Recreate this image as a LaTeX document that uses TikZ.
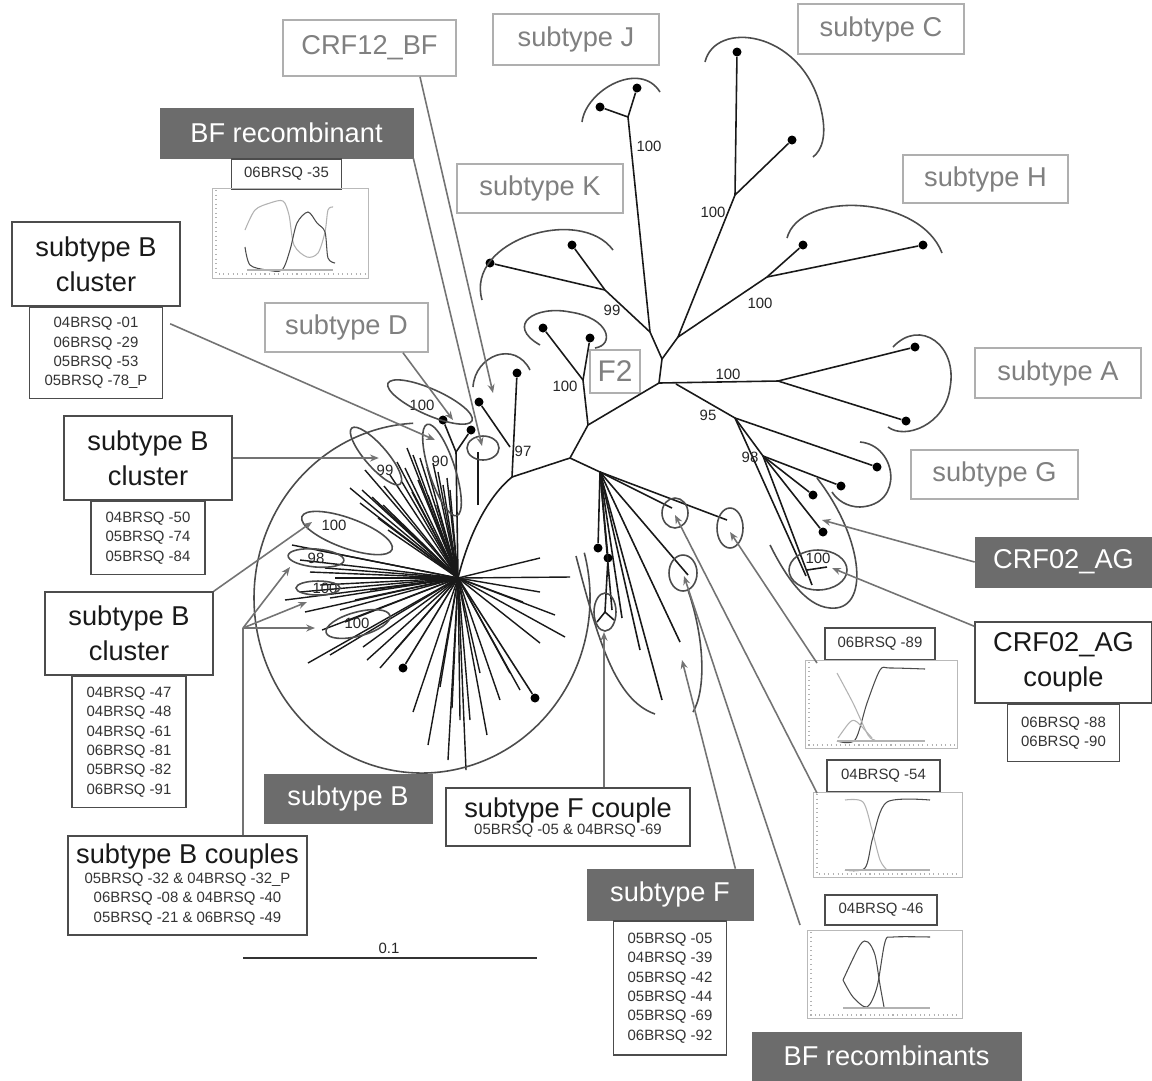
\documentclass[tikz,border=0pt]{standalone}
\usepackage{fontspec}
\setmainfont{Liberation Sans}
\usetikzlibrary{arrows.meta,positioning}
\definecolor{labelgray}{RGB}{128,128,128}
\definecolor{rimgray}{RGB}{175,175,175}
\definecolor{boxgray}{RGB}{108,108,108}
\definecolor{linegray}{RGB}{115,115,115}
\definecolor{treeblack}{RGB}{25,25,25}

\tikzset{
  px/.style 2 args={minimum width=#1*0.02cm, minimum height=#2*0.02cm},
  biglbl/.style={font=\fontsize{15.5}{20}\selectfont, inner sep=0pt, align=center},
  graybox/.style={biglbl, draw=rimgray, line width=0.9pt, text=labelgray, fill=white},
  darkbox/.style={biglbl, fill=boxgray, draw=boxgray, text=white},
  blackbox/.style={biglbl, draw=black!70, line width=0.9pt, text=black!90, fill=white},
  idbox/.style={draw=black!70, line width=0.8pt, inner sep=0pt, align=center, fill=white,
    font=\fontsize{8.5}{11}\selectfont, text=black!80},
  idtext/.style={inner sep=0pt, align=center, font=\fontsize{8.5}{11}\selectfont, text=black!80},
  boot/.style={font=\fontsize{8.5}{10}\selectfont, inner sep=0pt, text=black!85},
  branch/.style={draw=treeblack, line width=0.9pt},
  tip/.style={circle, fill=black, inner sep=0pt, minimum size=0.18cm},
  hull/.style={draw=black!70, line width=0.9pt},
  pointer/.style={draw=linegray, line width=0.9pt, -{Stealth[length=5pt,width=4pt]}},
  chartframe/.style={draw=gray!55, line width=0.5pt},
  chartaxis/.style={draw=gray!60, line width=0.6pt, dotted},
  chartdark/.style={draw=black!70, line width=0.6pt},
  chartlight/.style={draw=gray!60, line width=0.6pt}
}

\begin{document}
\begin{tikzpicture}[x=0.02cm, y=-0.02cm]
\useasboundingbox[fill=white] (0,0) rectangle (1152,1080);

% subtype labels
\node[graybox, px={173}{56}] (crf12) at (369.5,48) {CRF12\_BF};
\node[graybox, px={166}{51}] (subJ) at (576,39.5) {subtype J};
\node[graybox, px={166}{50}] (subC) at (881,29) {subtype C};
\node[graybox, px={166}{49}] (subK) at (540,188.5) {subtype K};
\node[graybox, px={165}{48}] (subH) at (985.5,179) {subtype H};
\node[graybox, px={163}{49}] (subD) at (346.5,327.5) {subtype D};
\node[graybox, px={50}{43}, font=\fontsize{17}{20}\selectfont] (fII) at (615,371.5) {F2};
\node[graybox, px={166}{50}] (subA) at (1058,373) {subtype A};
\node[graybox, px={167}{49}] (subG) at (994.5,474.5) {subtype G};

\node[darkbox, px={253}{50}] (bfrec) at (286.5,133) {BF recombinant};
\node[darkbox, px={177}{50}] (crfAG) at (1063.5,562) {CRF02\_AG};
\node[darkbox, px={168}{49}] (subB) at (348,798.5) {subtype B};
\node[darkbox, px={166}{51}] (subF) at (670,894.5) {subtype F};
\node[darkbox, px={269}{48}] (bfrecs) at (886.5,1056) {BF recombinants};

\node[blackbox, px={168}{84}] (clA) at (96,264) {subtype B\\cluster};
\node[blackbox, px={168}{84}] (clB) at (148,458) {subtype B\\cluster};
\node[blackbox, px={168}{83}] (clC) at (129,633.5) {subtype B\\cluster};
\node[blackbox, px={177}{81}] (crfcpl) at (1063.5,662.5) {CRF02\_AG\\couple};

% sample lists
\node[idbox, px={133}{91}, below=0pt of clA] (idA) {04BRSQ -01\\06BRSQ -29\\05BRSQ -53\\05BRSQ -78\_P};
\node[idbox, px={114}{73}, below=0pt of clB] (idB) {04BRSQ -50\\05BRSQ -74\\05BRSQ -84};
\node[idbox, px={114}{131}, below=0pt of clC] (idC) {04BRSQ -47\\04BRSQ -48\\04BRSQ -61\\06BRSQ -81\\05BRSQ -82\\06BRSQ -91};
\node[idbox, px={113}{134}, below=0pt of subF] (idF) {05BRSQ -05\\04BRSQ -39\\05BRSQ -42\\05BRSQ -44\\05BRSQ -69\\06BRSQ -92};
\node[idbox, px={112}{57}, below=0pt of crfcpl] (idCRF) {06BRSQ -88\\06BRSQ -90};
\node[idbox, px={110}{30}, below=0pt of bfrec] (id35) {06BRSQ -35};
\node[idbox, px={110}{32}] (id89) at (880,644) {06BRSQ -89};
\node[idbox, px={113}{32}] (id54) at (883.5,776) {04BRSQ -54};
\node[idbox, px={112}{30}] (id46) at (881,910) {04BRSQ -46};

\node[blackbox, px={239}{99}] (bcpl) at (187.5,885.5) {};
\node[biglbl, text=black!90] (bcplt) at (187.5,856) {subtype B couples};
\node[idtext] (bcpli) at (187.5,899) {05BRSQ -32 \& 04BRSQ -32\_P\\06BRSQ -08 \& 04BRSQ -40\\05BRSQ -21 \& 06BRSQ -49};
\node[blackbox, px={244}{58}] (fcpl) at (568,817) {};
\node[biglbl, text=black!90] (fcplt) at (568,810) {subtype F couple};
\node[idtext] (fcpli) at (568,831) {05BRSQ -05 \& 04BRSQ -69};

% recombination plots
\draw[chartframe] (212,188) rectangle (368,278);
\draw[chartaxis] (216,190) -- (216,274) -- (366,274);
\draw[chartlight] plot[smooth] coordinates {(245,230) (255,210) (270,203) (283,201) (289,215) (294,245) (307,257) (318,253) (325,232) (328,210) (333,207)};
\draw[chartdark] plot[smooth] coordinates {(245,247) (250,265) (267,270) (282,270) (290,250) (297,223) (308,212) (317,223) (325,232) (328,258) (335,263)};
\draw[chartlight] (247,270) -- (333,270);

\draw[chartframe] (805,660) rectangle (957,748);
\draw[chartaxis] (809,662) -- (809,745) -- (955,745);
\draw[chartdark] plot[smooth] coordinates {(837,741) (855,740) (867,703) (880,670) (890,668) (925,669)};
\draw[chartlight] plot[smooth] coordinates {(837,673) (853,703) (868,735) (875,740)};
\draw[chartlight] plot[smooth] coordinates {(838,738) (850,722) (857,722) (872,738)};
\draw[chartlight] (837,741) -- (925,741);

\draw[chartframe] (813,792) rectangle (962,877);
\draw[chartaxis] (817,794) -- (817,874) -- (960,874);
\draw[chartlight] plot[smooth] coordinates {(845,800) (863,802) (872,830) (880,860) (887,870)};
\draw[chartdark] plot[smooth] coordinates {(845,870) (865,868) (873,837) (887,802) (930,800)};
\draw[chartlight] (845,870) -- (930,870);

\draw[chartframe] (807,930) rectangle (962,1018);
\draw[chartaxis] (811,932) -- (811,1015) -- (960,1015);
\draw[chartdark] plot[smooth] coordinates {(843,980) (860,945) (868,942) (875,955) (880,985) (884,1007)};
\draw[chartdark] plot[smooth] coordinates {(843,980) (853,997) (867,1007) (877,987) (885,942) (893,937) (930,937)};
\draw[chartlight] (843,1008) -- (930,1008);

% tree: internal points
\coordinate (broot) at (458,578);
\coordinate (n97) at (512,477);
\coordinate (n97b) at (510,447);
\coordinate (p0) at (570,458);
\coordinate (p1) at (588,425);
\coordinate (nF2) at (583,380);
\coordinate (hub) at (659,383);
\coordinate (hubA) at (662,359);
\coordinate (nJK) at (650,332);
\coordinate (nJ) at (628,117);
\coordinate (nK) at (605,290);
\coordinate (nCH) at (678,337);
\coordinate (nC) at (735,195);
\coordinate (nH) at (767,277);
\coordinate (nA) at (778,381);
\coordinate (n95s) at (676,384);
\coordinate (n95) at (735,418);
\coordinate (n98) at (763,456);
\coordinate (nF) at (600,472);
\coordinate (n90) at (456,452);
\coordinate (bfl) at (478,505);
\coordinate (bft) at (478,452);

% tips
\node[tip] (tJ1) at (600,107) {};
\node[tip] (tJ2) at (637,88) {};
\node[tip] (tC1) at (737,52) {};
\node[tip] (tC2) at (792,140) {};
\node[tip] (tK1) at (572,245) {};
\node[tip] (tK2) at (490,263) {};
\node[tip] (tH1) at (803,245) {};
\node[tip] (tH2) at (923,245) {};
\node[tip] (tA1) at (915,347) {};
\node[tip] (tA2) at (906,421) {};
\node[tip] (tF21) at (543,328) {};
\node[tip] (tF22) at (590,338) {};
\node[tip] (tG1) at (877,467) {};
\node[tip] (tG2) at (841,486) {};
\node[tip] (tCR1) at (813,495) {};
\node[tip] (tCR2) at (823,532) {};
\node[tip] (t97a) at (517,373) {};
\node[tip] (t97b) at (479,402) {};
\node[tip] (t90a) at (443,420) {};
\node[tip] (t90b) at (471,430) {};
\node[tip] (tF1) at (598,548) {};
\node[tip] (tF2) at (608,558) {};
\node[tip] (tB1) at (403,668) {};
\node[tip] (tB2) at (535,698) {};

% subtype B star
\foreach \p in {(407,448),(413,455),(420,458),(427,467),(433,463),(438,472),(443,485),(447,478),
  (450,490),(437,505),(428,495),(418,480),(405,468),(397,462),(390,475),(384,486),(362,490),
  (360,503),(372,497),(383,505),(388,530),(378,518),(350,488),(365,470),(402,482),(412,492),
  (292,545),(317,550),(300,560),(310,572),(325,568),(300,592),(340,610),(320,585),(335,578),
  (305,612),(322,630),(345,622),(355,600),(370,590),(285,600),(330,598),
  (308,663),(330,655),(363,647),(367,660),(380,668),(395,650),
  (413,712),(428,745),(440,687),(452,708),(448,760),(460,720),(470,720),(466,770),(480,673),
  (487,735),(500,700),(510,673),(520,690),
  (540,643),(565,637),(540,592),(570,577),(540,558),(523,602),(555,615)}
  \draw[branch, line width=0.8pt] (broot) -- \p;
\draw[branch] (broot) -- (tB1);
\draw[branch] (broot) -- (tB2);

% backbone
\draw[branch] (broot) .. controls (470,530) and (490,495) .. (n97);
\draw[branch] (n97) -- (p0) -- (p1) -- (hub);
\draw[branch] (n97) -- (t97a);
\draw[branch] (n97b) -- (t97b);
\draw[branch] (broot) -- (n90);
\draw[branch] (n90) -- (t90a);
\draw[branch] (n90) -- (t90b);
\draw[branch] (bfl) -- (bft);
\draw[branch] (p1) -- (nF2);
\draw[branch] (nF2) -- (tF21);
\draw[branch] (nF2) -- (tF22);
\draw[branch] (hub) -- (hubA) -- (nJK) -- (nJ);
\draw[branch] (nJ) -- (tJ1);
\draw[branch] (nJ) -- (tJ2);
\draw[branch] (nJK) -- (nK);
\draw[branch] (nK) -- (tK1);
\draw[branch] (nK) -- (tK2);
\draw[branch] (hubA) -- (nCH) -- (nC);
\draw[branch] (nC) -- (tC1);
\draw[branch] (nC) -- (tC2);
\draw[branch] (nCH) -- (nH);
\draw[branch] (nH) -- (tH1);
\draw[branch] (nH) -- (tH2);
\draw[branch] (hub) -- (nA);
\draw[branch] (nA) -- (tA1);
\draw[branch] (nA) -- (tA2);
\draw[branch] (n95s) -- (n95);
\draw[branch] (n95) -- (tG1);
\draw[branch] (n95) -- (n98);
\draw[branch] (n98) -- (tG2);
\draw[branch] (n98) -- (tCR1);
\draw[branch] (n98) -- (tCR2);
\draw[branch] (n98) -- (812,585);
\draw[branch] (n95) -- (806,576);
\draw[branch] (807,570) -- (827,567);

% subtype F fan
\draw[branch] (p0) -- (nF);
\foreach \p in {(727,520),(672,508),(688,575),(622,618),(662,700),(680,642),(640,650),(612,610)}
  \draw[branch] (nF) -- \p;
\draw[branch] (nF) -- (tF1);
\draw[branch] (nF) -- (tF2);
\draw[branch] (tF2) -- (605,612);
\draw[branch] (605,612) -- (597,622);
\draw[branch] (605,612) -- (614,620);

% bootstrap values
\node[boot] (b1) at (649,146) {100};
\node[boot] (b2) at (713,212) {100};
\node[boot] (b3) at (612,310) {99};
\node[boot] (b4) at (760,303) {100};
\node[boot] (b5) at (728,374) {100};
\node[boot] (b6) at (708,415) {95};
\node[boot] (b7) at (750,457) {98};
\node[boot] (b8) at (818,558) {100};
\node[boot] (b9) at (565,386) {100};
\node[boot] (b10) at (523,451) {97};
\node[boot] (b11) at (422,405) {100};
\node[boot] (b12) at (385,470) {99};
\node[boot] (b13) at (440,461) {90};
\node[boot] (b14) at (334,525) {100};
\node[boot] (b15) at (316,558) {98};
\node[boot] (b16) at (325,588) {100};
\node[boot] (b17) at (357,623) {100};

% cluster outlines
\draw[hull] (422,598) ++(-15:168 and 175) arc[start angle=-15, end angle=267, x radius=168, y radius=175];
\draw[hull] (582,122) .. controls (586,90) and (640,60) .. (660,92);
\draw[hull] (705,62) .. controls (715,20) and (800,30) .. (820,105) .. controls (828,135) and (822,150) .. (813,157);
\draw[hull] (482,300) .. controls (465,240) and (580,205) .. (613,250);
\draw[hull] (787,238) .. controls (800,190) and (920,195) .. (942,253);
\draw[hull] (893,347) .. controls (920,318) and (958,345) .. (950,388) .. controls (945,425) and (905,440) .. (888,427);
\draw[hull] (540,345) .. controls (505,325) and (535,305) .. (570,312) .. controls (610,318) and (615,345) .. (595,348);
\draw[hull] (860,442) .. controls (897,445) and (905,505) .. (860,507) .. controls (847,507) and (837,500) .. (832,492);
\draw[hull] (817,478) .. controls (865,540) and (870,612) .. (830,608) .. controls (805,606) and (785,575) .. (770,545);
\draw[hull] (473,387) .. controls (475,355) and (515,340) .. (530,370);
\draw[hull] (818,570) ellipse [x radius=29, y radius=20];
\draw[hull] (483,448) ellipse [x radius=16, y radius=12];
\draw[hull, rotate around={-24:(430,402)}] (430,402) ellipse [x radius=46, y radius=13];
\draw[hull, rotate around={-49:(376,456)}] (376,456) ellipse [x radius=37, y radius=11];
\draw[hull, rotate around={18:(442,470)}] (442,470) ellipse [x radius=13, y radius=48];
\draw[hull, rotate around={-20:(347,533)}] (347,533) ellipse [x radius=48, y radius=15];
\draw[hull, rotate around={-5:(316,558)}] (316,558) ellipse [x radius=28, y radius=9];
\draw[hull] (318,588) ellipse [x radius=22, y radius=7];
\draw[hull, rotate around={15:(358,624)}] (358,624) ellipse [x radius=33, y radius=12];
\draw[hull] (675,513) ellipse [x radius=13, y radius=15];
\draw[hull] (730,528) ellipse [x radius=13, y radius=20];
\draw[hull] (683,573) ellipse [x radius=14, y radius=18];
\draw[hull] (605,612) ellipse [x radius=11, y radius=19];
\draw[hull] (576,556) .. controls (598,640) and (615,700) .. (655,714);
\draw[hull] (688,590) .. controls (705,640) and (706,690) .. (693,712);

% pointers
\draw[pointer] ([xshift=1.01cm]crf12.south) -- (493,393);
\draw[pointer] (bfrec.south east) -- (482,446);
\draw[pointer] ([xshift=1.13cm]subD.south) -- (453,420);
\draw[pointer] ([shift={(7,17)}]idA.north east) -- (435,440);
\draw[pointer] (clB.east) -- ++(146,0);
\draw[pointer] (clC.north east) -- (312,522);
\coordinate (bj) at (243,628);
\draw[linegray, line width=0.9pt] ([xshift=1.11cm]bcpl.north) -- (bj);
\draw[pointer] (bj) -- (290,567);
\draw[pointer] (bj) -- (307,602);
\draw[pointer] (bj) -- (315,628);
\draw[pointer] ([xshift=0.72cm]fcpl.north) -- (604,632);
\draw[pointer] ([xshift=-0.36cm]subF.north east) -- (682,660);
\draw[pointer] (crfAG.west) -- (822,520);
\draw[pointer] ([yshift=-0.1cm]crfcpl.north west) -- (832,568);
\draw[pointer] (817,663) -- (730,532);
\draw[pointer] (817,793) -- (675,515);
\draw[pointer] (800,925) -- (684,576);

% scale bar
\draw[black!80, line width=0.8pt] (243,958) -- (537,958);
\node[boot] (scale) at (389,948) {0.1};
\end{tikzpicture}
\end{document}
